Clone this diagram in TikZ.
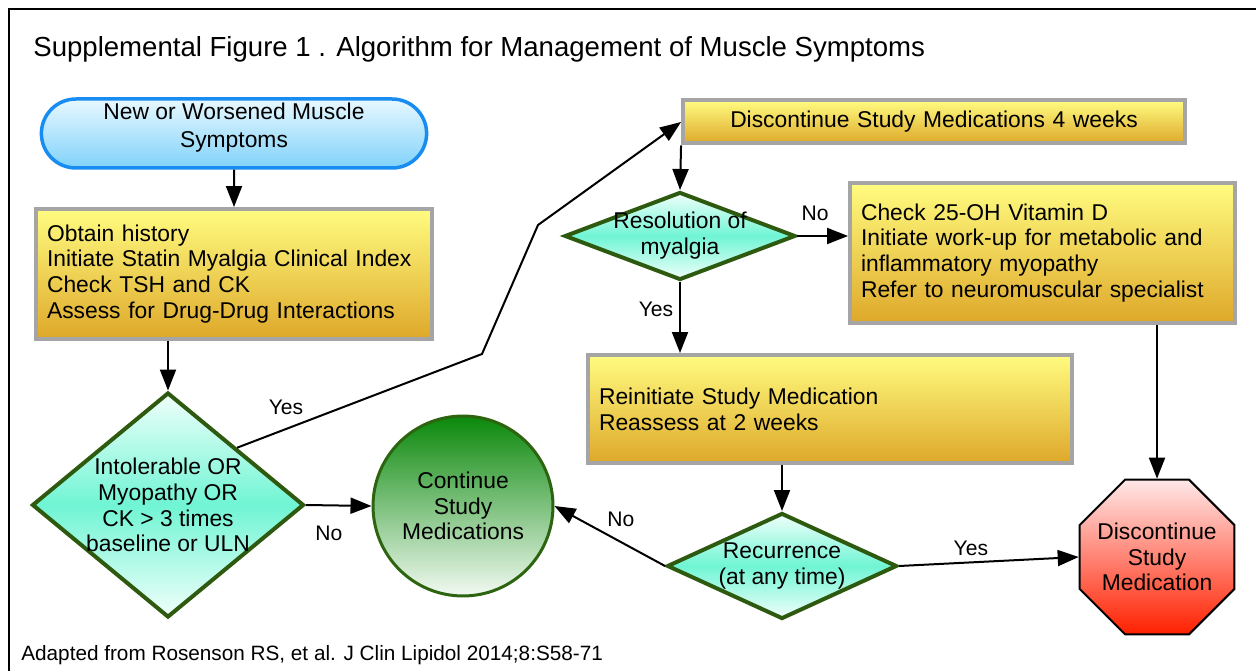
\documentclass[tikz,border=0pt]{standalone}
\usepackage{fontspec}
\setmainfont{Liberation Sans}
\usepackage{tikz}
\usetikzlibrary{shapes.geometric,shapes.misc,arrows.meta}

\definecolor{startline}{RGB}{24,140,240}
\definecolor{starttop}{RGB}{232,248,255}
\definecolor{startbot}{RGB}{128,210,250}
\definecolor{boxline}{RGB}{165,165,165}
\definecolor{boxtop}{RGB}{255,252,128}
\definecolor{boxbot}{RGB}{222,168,42}
\definecolor{decline}{RGB}{45,90,15}
\definecolor{decmid}{RGB}{112,245,212}
\definecolor{decend}{RGB}{240,255,250}
\definecolor{contline}{RGB}{45,100,16}
\definecolor{conttop}{RGB}{10,136,10}
\definecolor{contbot}{RGB}{242,250,242}
\definecolor{stoptop}{RGB}{255,232,232}
\definecolor{stopbot}{RGB}{255,32,0}

\begin{document}
\begin{tikzpicture}[x=0.02cm,y=-0.02cm,font=\fontsize{12}{14}\selectfont,
	bodyfont/.style={font=\fontsize{13}{14.7}\selectfont},
	startnode/.style={shape=rounded rectangle,draw=startline,line width=0.07cm,top color=starttop,bottom color=startbot,minimum width=7.94cm,minimum height=1.38cm,inner ysep=0pt,align=center,font=\fontsize{13}{16.4}\selectfont},
	process/.style={shape=rectangle,draw=boxline,line width=0.08cm,top color=boxtop,bottom color=boxbot,inner xsep=0.22cm,align=left,bodyfont},
	decision/.style={shape=diamond,draw=decline,line width=0.08cm,top color=decend,bottom color=decend,middle color=decmid,align=center,bodyfont},
	contnode/.style={shape=circle,draw=contline,line width=0.06cm,top color=conttop,bottom color=contbot,minimum size=3.6cm,align=center,bodyfont},
	stopnode/.style={shape=regular polygon,regular polygon sides=8,draw=black,line width=0.04cm,top color=stoptop,bottom color=stopbot,minimum size=3.24cm,inner sep=-0.1cm,align=center,bodyfont},
	arrow/.style={line width=0.04cm,-{Triangle[length=0.42cm,width=0.32cm]}}]
	\useasboundingbox (0,0) rectangle (1256,671);
	\draw[line width=0.05cm] (9,671) -- (9,9) -- (1256,9);

	\node[anchor=base west,inner sep=0pt,font=\fontsize{15.7}{18}\selectfont] (title) at (33,57) {Supplemental Figure 1 . Algorithm for Management of Muscle Symptoms};
	\node[anchor=base west,inner sep=0pt,font=\fontsize{11.8}{14}\selectfont] (source) at (21,660) {Adapted from Rosenson RS, et al. J Clin Lipidol 2014;8:S58-71};

	\node[startnode] (start) at (234,133.5) {New or Worsened Muscle\\Symptoms\\[-6.9pt]\mbox{}};
	\node[process,text width=7.48cm,minimum height=2.6cm] (hist) at (234,274) {Obtain history\\Initiate Statin Myalgia Clinical Index\\Check TSH and CK\\Assess for Drug-Drug Interactions};
	\node[decision,aspect=1.21,inner sep=-0.04cm,minimum width=5.44cm,minimum height=4.5cm] (tol) at (168,505) {Intolerable OR\\Myopathy OR\\CK > 3 times\\baseline or ULN};
	\node[contnode] (cont) at (463,506) {Continue\\Study\\Medications};
	\node[process,text width=9.6cm,align=center,minimum height=0.86cm] (stop4) at (934,122) {Discontinue Study Medications 4 weeks};
	\node[decision,aspect=2.62,inner sep=-0.1cm,minimum width=4.62cm,minimum height=1.76cm] (resol) at (680,236) {Resolution of\\myalgia};
	\node[process,text width=7.26cm,minimum height=2.8cm] (workup) at (1042.5,253) {Check 25-OH Vitamin D\\Initiate work-up for metabolic and\\inflammatory myopathy\\Refer to neuromuscular specialist};
	\node[process,text width=9.24cm,minimum height=2.16cm] (reinit) at (830,409) {Reinitiate Study Medication\\Reassess at 2 weeks};
	\node[decision,aspect=2.17,inner sep=0cm,minimum width=4.6cm,minimum height=2.12cm] (recur) at (782,566) {Recurrence\\(at any time)};
	\node[stopnode] (stop) at (1157,557) {Discontinue\\Study\\Medication};

	\coordinate (yes1) at (482,354);
	\coordinate (yes2) at (538,225);

	\path[arrow] (start) edge (hist);
	\path[arrow] (hist.south -| tol.north) edge (tol.north);
	\path[arrow] (tol.east) edge node[below=0.27cm,pos=0.35]{No} (cont.west);
	\draw[arrow] (tol.north east) -- node[pos=0.2,above=0.14cm]{Yes} (yes1) -- (yes2) -- (stop4.west);
	\path[arrow] (stop4.south west) edge (resol.north);
	\path[arrow] (resol.east) edge node[above=0.17cm,pos=0.35]{No} (resol.east -| workup.west);
	\path[arrow] (resol.south) edge node[left,pos=0.38]{Yes} (resol.south |- reinit.north);
	\path[arrow] (workup.south -| stop.north) edge (stop.north);
	\path[arrow] (reinit.south -| recur.north) edge (recur.north);
	\path[arrow] (recur.west) edge node[above=0.17cm,pos=0.4]{No} (cont.east);
	\path[arrow] (recur.east) edge node[above,pos=0.4]{Yes} (stop.west);
\end{tikzpicture}
\end{document}
